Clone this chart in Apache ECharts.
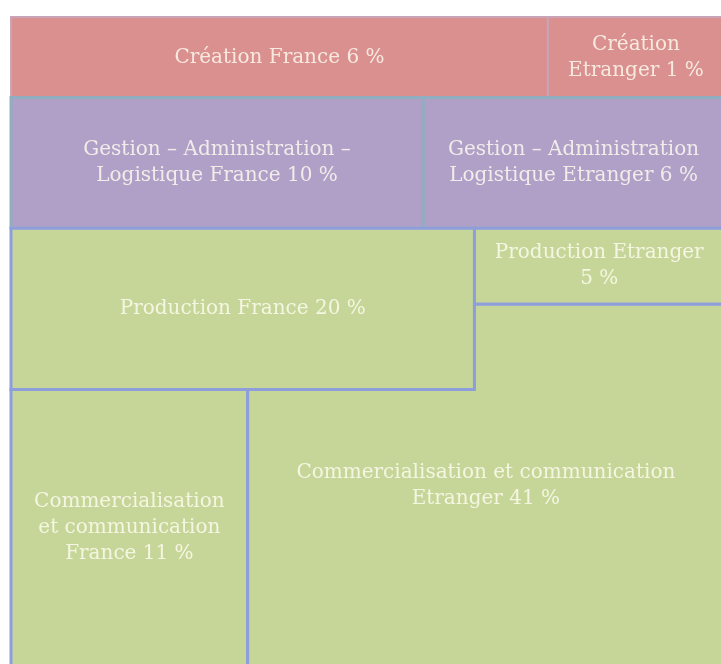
<!DOCTYPE html>
<html>
<head>
<meta charset="utf-8">
<title>Répartition</title>
<script src="https://cdn.jsdelivr.net/npm/echarts@6/dist/echarts.min.js"></script>
<style>
  html, body { margin: 0; padding: 0; background: #fff; }
  #main { width: 721px; height: 664px; }
</style>
</head>
<body>
<div id="main"></div>
<script>
// postes et parts (%)
var names = [
  'Création France',
  'Création\nEtranger',
  'Gestion – Administration –\nLogistique France',
  'Gestion – Administration\nLogistique Etranger',
  'Production France',
  'Production Etranger\n',
  'Commercialisation\net communication\nFrance',
  'Commercialisation et communication\nEtranger'
];
var shares = [6, 1, 10, 6, 20, 5, 11, 41];
var groups = ['creation', 'creation', 'gestion', 'gestion', 'production', 'production', 'commerce', 'commerce'];

// découpage du dessin (en % de la largeur / hauteur du cadre)
var tiles = [
  [[0, 0], [75.3, 0], [75.3, 12.4], [0, 12.4]],
  [[75.3, 0], [100, 0], [100, 12.4], [75.3, 12.4]],
  [[0, 12.4], [57.8, 12.4], [57.8, 32.5], [0, 32.5]],
  [[57.8, 12.4], [100, 12.4], [100, 32.5], [57.8, 32.5]],
  [[0, 32.5], [65, 32.5], [65, 57.3], [0, 57.3]],
  [[65, 32.5], [100, 32.5], [100, 44.2], [65, 44.2]],
  [[0, 57.3], [33.2, 57.3], [33.2, 100], [0, 100]],
  [[65, 44.2], [100, 44.2], [100, 100], [33.2, 100], [33.2, 57.3], [65, 57.3]]
];

var fills = { creation: '#d9908f', gestion: '#b0a0c8', production: '#c6d699', commerce: '#c6d699' };
var strokes = { creation: '#c9a4b6', gestion: '#90aec0', production: '#8e9ddc', commerce: '#8e9ddc' };

var chart = echarts.init(document.getElementById('main'));

chart.setOption({
  animation: false,
  grid: { left: 11, top: 17, right: -3, bottom: -3, outerBoundsMode: 'none' },
  xAxis: { type: 'value', min: 0, max: 100, show: false },
  yAxis: { type: 'value', min: 0, max: 100, inverse: true, show: false },
  series: [{
    type: 'custom',
    clip: false,
    data: shares.map(function (v, i) {
      return { name: names[i], value: [i, v] };
    }),
    renderItem: function (params, api) {
      var i = api.value(0);
      var g = groups[i];
      var pts = tiles[i].map(function (p) { return api.coord(p); });
      var xs = pts.map(function (p) { return p[0]; });
      var ys = pts.map(function (p) { return p[1]; });
      var cx = (Math.min.apply(null, xs) + Math.max.apply(null, xs)) / 2;
      var cy = (Math.min.apply(null, ys) + Math.max.apply(null, ys)) / 2;
      var n = names[i];
      var txt = n.charAt(n.length - 1) === '\n' ? n + api.value(1) + ' %' : n + ' ' + api.value(1) + ' %';
      return {
        type: 'group',
        children: [{
          type: 'polygon',
          shape: { points: pts },
          style: { fill: fills[g], stroke: strokes[g], lineWidth: g === 'creation' ? 2 : 3 }
        }, {
          type: 'text',
          x: cx,
          y: cy,
          style: {
            text: txt,
            fill: 'rgba(255,252,240,0.82)',
            font: '20px "DejaVu Serif"',
            lineHeight: 26,
            align: 'center',
            verticalAlign: 'middle'
          }
        }]
      };
    }
  }]
});
</script>
</body>
</html>
